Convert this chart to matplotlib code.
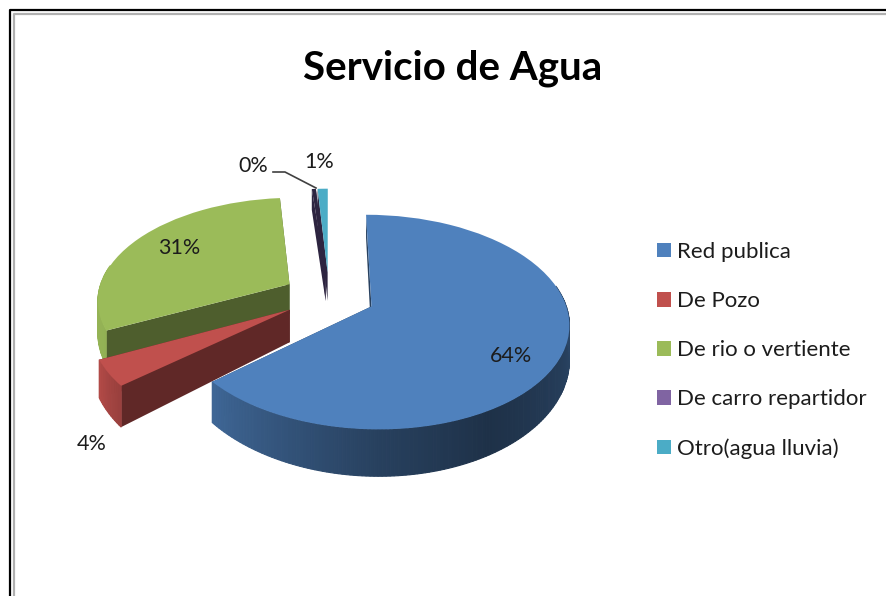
import numpy as np
import matplotlib
matplotlib.use("Agg")
import matplotlib.pyplot as plt
from matplotlib.transforms import Transform

# values, the 0% slice is just a sliver
labels = ["Red publica", "De Pozo", "De rio o vertiente", "De carro repartidor", "Otro(agua lluvia)"]
values = [64, 4, 31, 0.4, 1]
shown = ["64%", "4%", "31%", "0%", "1%"]
colors = ["#4f81bd", "#c0504d", "#9bbb59", "#8064a2", "#4bacc6"]
explode = [0.24, 0.24, 0.24, 0.24, 0.24]

plt.rcParams["font.family"] = ["Lato", "DejaVu Sans"]

# fake 3d view, pie plane -> pixels
CX, CY, SX, SY, K, H = 329, 296, 192, 102, 0.144, 31


def proj(x, y, z=0):
    x = np.asarray(x, float)
    y = np.asarray(y, float)
    w = 1 + K * y
    return CX + SX * x / w, CY - SY * y / w + z * H / w**2.4


class Persp(Transform):
    input_dims = 2
    output_dims = 2

    def transform_non_affine(self, xy):
        px, py = proj(xy[:, 0], xy[:, 1])
        return np.column_stack([px, py])


def shade(c, f):
    return tuple(np.array(matplotlib.colors.to_rgb(c)) * f)


def side(a):
    # a = clockwise angle from 12 o'clock, how dark the rim gets there
    return np.interp(a, [0, 90, 150, 180, 230, 245, 300, 360],
                     [.5, .55, .38, .5, .8, .95, 1, 1])


fig = plt.figure(figsize=(8.86, 5.96), dpi=100)
ax = fig.add_axes([0, 0, 1, 1])
wedges, _ = ax.pie(values, explode=explode, colors=colors, startangle=90, counterclock=False,
                   wedgeprops={"linewidth": 0})
ax.set_aspect("auto")
ax.set_xlim(0, 886)
ax.set_ylim(596, 0)
ax.axis("off")

t = Persp() + ax.transData
# back slices first, blue goes on top of everything
for i in [4, 3, 2, 1, 0]:
    w = wedges[i]
    c0, c1 = w.center
    base = 10 + (4 - i) * 2
    # flat cut faces
    for th in [w.theta1, w.theta2]:
        ex = c0 + np.cos(np.radians(th))
        ey = c1 + np.sin(np.radians(th))
        sx, sy = proj([c0, ex, ex, c0], [c1, ey, ey, c1], np.array([0, 0, 1, 1]))
        col = shade(colors[i], 0.5)
        if i == 3 or i == 4:
            col = "#2d2440"
        ax.fill(sx, sy, color=col, lw=0, zorder=base)
    # rim, cut in small strips so it can shade
    ths = np.linspace(w.theta1, w.theta2, max(3, int(w.theta2 - w.theta1)))
    for a, b in zip(ths[:-1], ths[1:]):
        if np.sin(np.radians((a + b) / 2)) > 0.2:
            continue  # back of the rim is hidden anyway
        xa, ya = c0 + np.cos(np.radians(a)), c1 + np.sin(np.radians(a))
        xb, yb = c0 + np.cos(np.radians(b)), c1 + np.sin(np.radians(b))
        sx, sy = proj([xa, xb, xb, xa], [ya, yb, yb, ya], np.array([0, 0, 1, 1]))
        ang = (90 - (a + b) / 2) % 360
        ax.fill(sx, sy, color=shade(colors[i], side(ang)), lw=0.8, zorder=base + 1)
    w.set_transform(t)
    w.set_zorder(base + 1.5)

tc = "#1c1c1c"
ax.text(453, 68, "Servicio de Agua", ha="center", va="center", fontsize=29, fontweight="bold", color="black", zorder=40)
pos = [(511, 356), (92, 444), (179, 248), (253, 166), (319, 162)]
for s, (x, y) in zip(shown, pos):
    ax.text(x, y, s, ha="center", va="center", fontsize=15.5, color=tc, zorder=40)
ax.plot([273, 285, 316], [172, 172, 188], color="#404040", lw=1.2, zorder=40)

leg = ax.legend(wedges, labels, loc="upper left", bbox_to_anchor=(657 / 886, 1 - 242 / 596),
                frameon=False, fontsize=16, labelspacing=1.31, handlelength=0.63, handleheight=0.63,
                handletextpad=0.27, borderpad=0, borderaxespad=0, labelcolor=tc)
leg.set_zorder(40)
wedges[3].set_facecolor("#2d2440")  # sliver top reads almost black, legend keeps the purple

# double window frame
ax.plot([10, 10, 886], [596, 10, 10], color="black", lw=1.6, zorder=50)
ax.plot([14, 14, 886], [596, 14, 14], color="#b0b0b0", lw=1.6, zorder=50)

fig.savefig("out.png", dpi=100)
